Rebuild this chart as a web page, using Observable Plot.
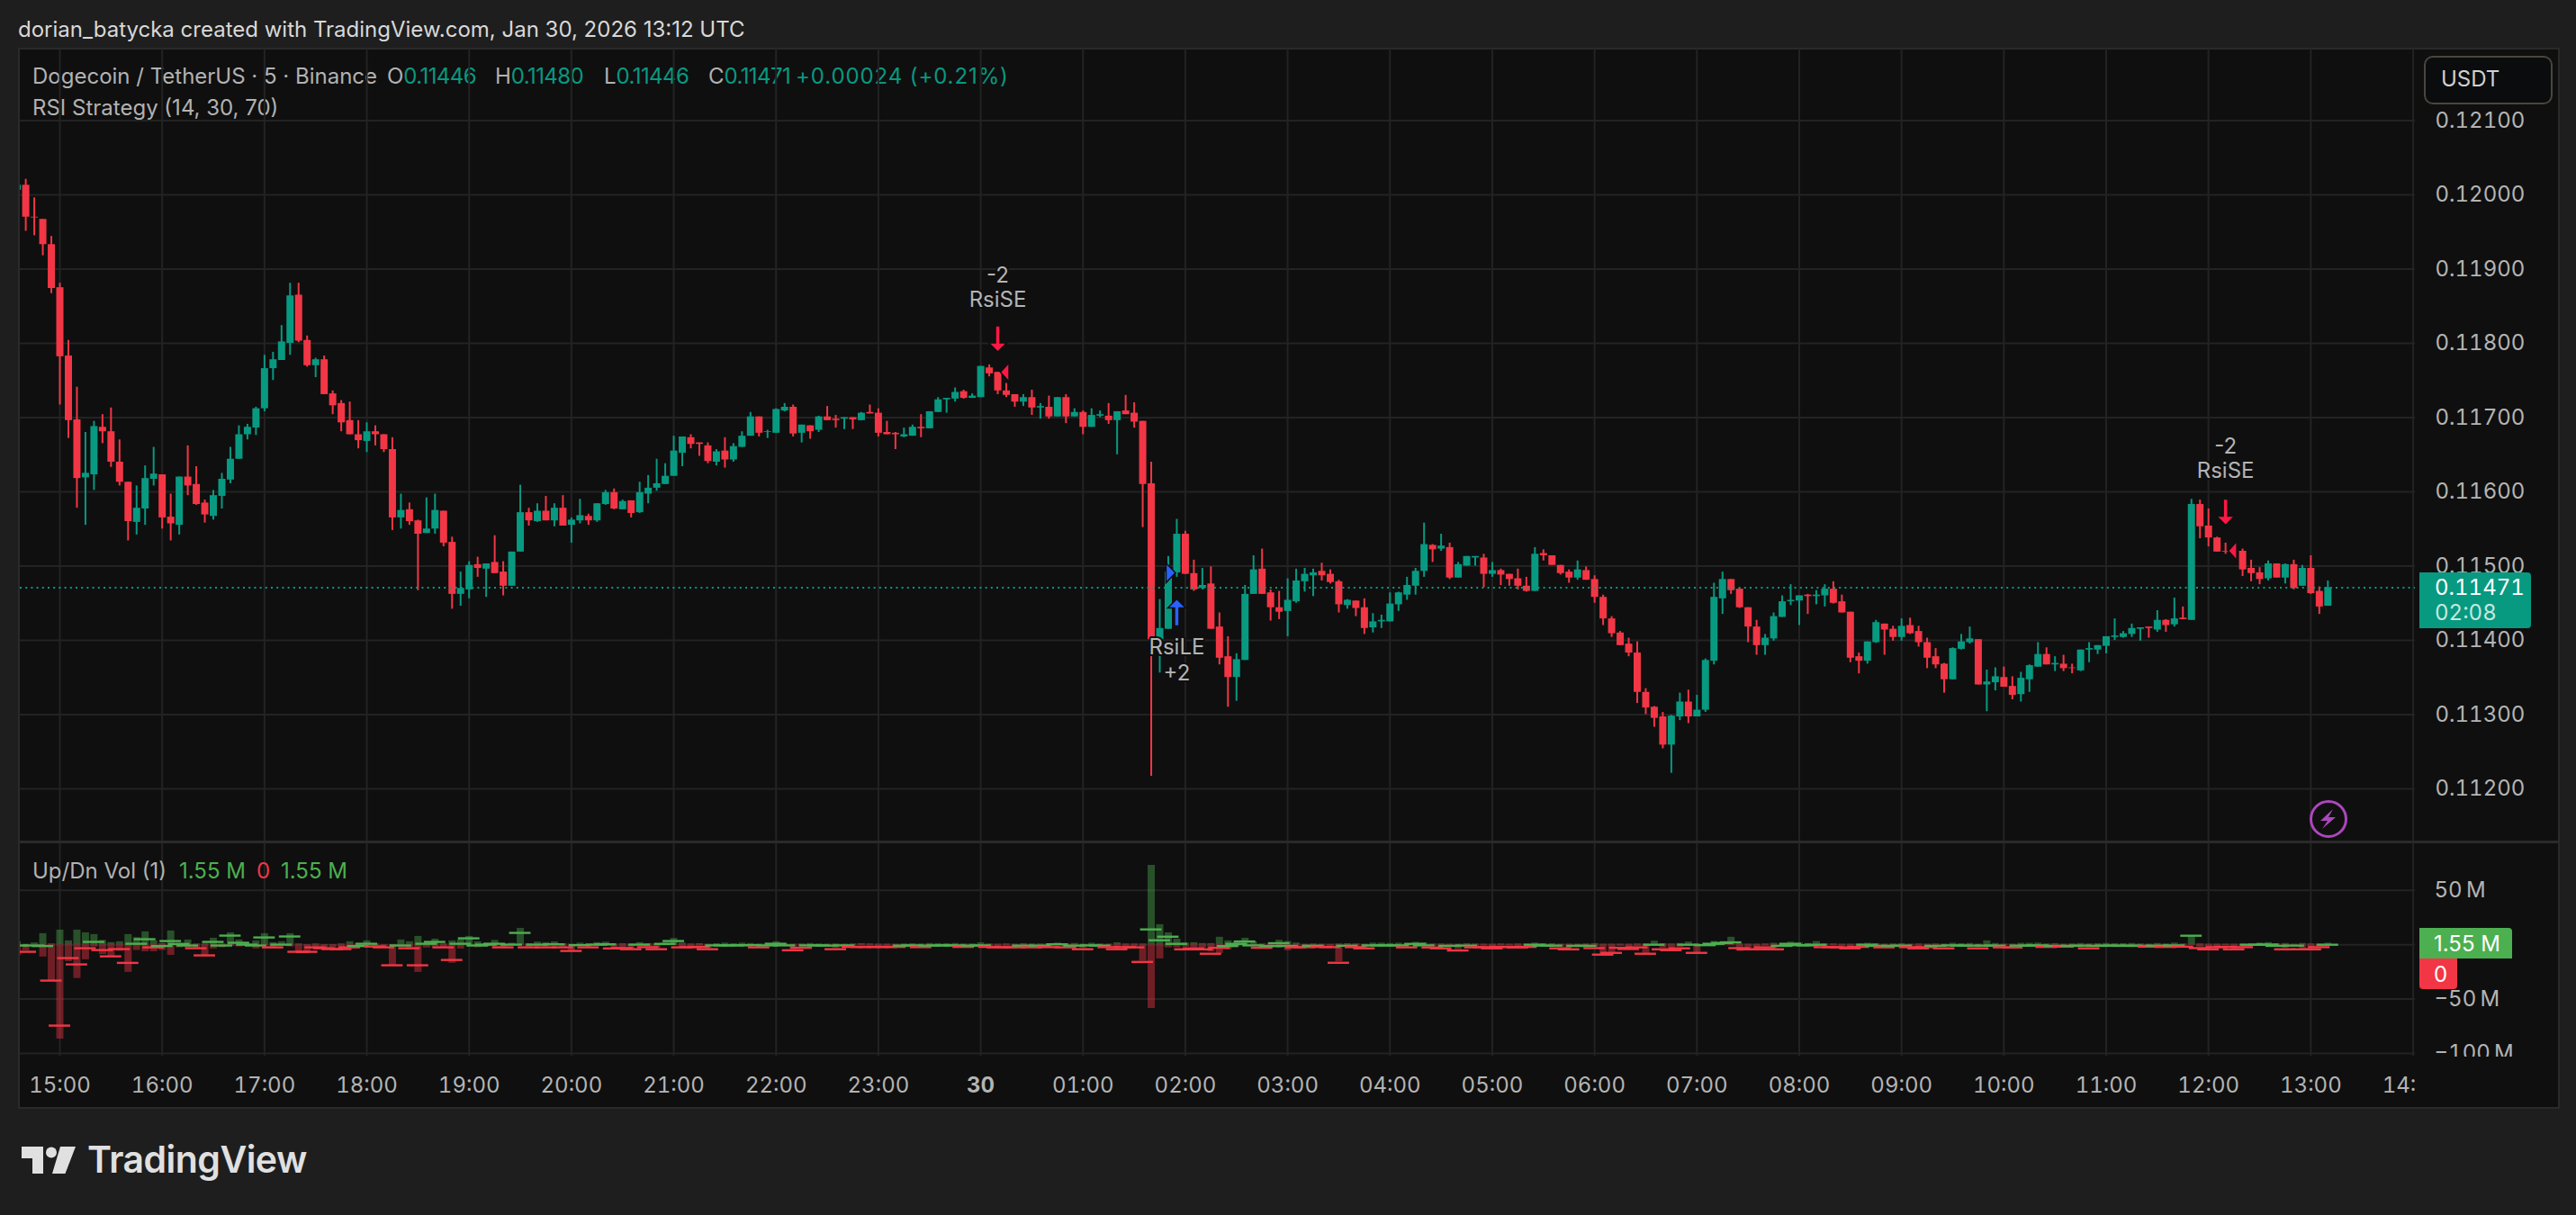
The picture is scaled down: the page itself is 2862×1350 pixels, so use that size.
<!DOCTYPE html>
<html><head><meta charset="utf-8">
<script src="https://cdn.jsdelivr.net/npm/d3@7"></script>
<script src="https://cdn.jsdelivr.net/npm/@observablehq/plot@0.6"></script>
<style>
html,body{margin:0;padding:0;background:#1e1e1e;width:2862px;height:1350px;overflow:hidden;font-family:Inter,sans-serif}
#root{position:relative;width:2862px;height:1350px}
.abs{position:absolute;white-space:pre}
#root svg{position:absolute;left:0}
.g{color:#089981}.u{color:#4caf50}.d{color:#f23645}
.lg{top:70px;font-size:24px;color:#b2b2b2}
.lg .g{letter-spacing:-0.6px}
.tn{font-variant-numeric:tabular-nums}
</style></head><body><div id="root">
<div class="abs" style="left:20px;top:53px;width:2820px;height:1175px;background:#0f0f0f;border:2px solid #2a2a2a"></div>
<div class="abs" style="left:20px;top:18px;font-size:24px;color:#d8d8d8">dorian_batycka created with TradingView.com, Jan 30, 2026 13:12 UTC</div>
<div class="abs lg" style="left:36px">Dogecoin / TetherUS · 5 · Binance</div>
<div class="abs lg" style="left:430px">O<span class="g">0.11446</span></div>
<div class="abs lg" style="left:550px">H<span class="g">0.11480</span></div>
<div class="abs lg" style="left:671px">L<span class="g">0.11446</span></div>
<div class="abs lg" style="left:787px">C<span class="g">0.11471</span></div>
<div class="abs lg" style="left:884px;color:#089981;letter-spacing:0.9px">+0.00024 (+0.21%)</div>
<div class="abs" style="left:36px;top:105px;font-size:24px;color:#b2b2b2">RSI Strategy (14, 30, 70)</div>
<div id="charts"></div>
<div class="abs" style="left:22px;top:934px;width:2820px;height:3px;background:#2a2a2a"></div>
<div class="abs" style="left:2683px;top:1174px;width:157px;height:54px;background:#0f0f0f"></div>
<div class="abs" style="left:2693px;top:62px;width:139px;height:50px;background:#0a0c0e;border:2px solid #4a463c;border-radius:10px"></div>
<div class="abs" style="left:2712px;top:73px;font-size:24px;color:#d0d0d0">USDT</div>
<div class="abs" style="left:36px;top:953px;font-size:24px;color:#b2b2b2">Up/Dn Vol (1)</div>
<div class="abs u" style="left:199px;top:953px;font-size:24px">1.55 M</div>
<div class="abs d" style="left:285px;top:953px;font-size:24px">0</div>
<div class="abs u" style="left:312px;top:953px;font-size:24px">1.55 M</div>
<div class="abs" style="left:2688px;top:636px;width:124px;height:62px;background:#089981;border-radius:0 4px 4px 0"></div>
<div class="abs tn" style="left:2705px;top:638px;font-size:24px;line-height:29px;color:#fff">0.11471</div>
<div class="abs tn" style="left:2705px;top:666px;font-size:24px;line-height:29px;color:#c4e8df">02:08</div>
<div class="abs" style="left:2688px;top:1031px;width:103px;height:34px;background:#4caf50;border-radius:0 4px 0 0"></div>
<div class="abs" style="left:2704px;top:1034px;font-size:24px;line-height:29px;color:#fff">1.55 M</div>
<div class="abs" style="left:2688px;top:1065px;width:42px;height:34px;background:#f23645;border-radius:0 0 4px 4px"></div>
<div class="abs" style="left:2704px;top:1068px;font-size:24px;line-height:29px;color:#fff">0</div>
<svg width="44" height="44" viewBox="0 0 44 44" style="left:2565px;top:888px">
<circle cx="22" cy="22" r="19.5" fill="none" stroke="#ab47bc" stroke-width="3"/>
<path d="M27 11 L13 24 L21 24 L15 33 L30 20 L22 20 Z" fill="#ab47bc"/></svg>
<svg width="62" height="32" viewBox="0 0 62 32" style="left:23px;top:1273px">
<path d="M1 1H25V31H13V14H1Z" fill="#e0e0e0"/><circle cx="34" cy="7.5" r="6" fill="#e0e0e0"/>
<path d="M44 1H61L49.5 31H35Z" fill="#e0e0e0"/></svg>
<div class="abs" style="left:97px;top:1263px;font-size:41px;font-weight:600;letter-spacing:-0.55px;color:#e0e0e0">TradingView</div>
</div>
<script>
// Prices are in units of 0.00001 USDT, one entry per 5-minute bar from Jan 29 14:35
const opens=[12006,12013,11970,11967,11933,11875,11783,11697,11619,11623,
11687,11681,11640,11613,11559,11577,11617,11623,11566,11555,
11620,11610,11585,11567,11594,11616,11644,11677,11686,11712,
11766,11777,11800,11865,11804,11770,11778,11732,11719,11696,
11677,11668,11681,11677,11657,11565,11576,11561,11544,11550,
11574,11532,11462,11468,11502,11496,11505,11492,11473,11519,
11572,11560,11574,11561,11578,11555,11561,11567,11561,11583,
11599,11576,11588,11572,11597,11605,11610,11621,11652,11673,
11666,11662,11640,11655,11643,11660,11675,11701,11680,11679,
11709,11714,11679,11689,11683,11701,11698,11698,11700,11696,
11707,11706,11680,11679,11674,11675,11687,11685,11707,11724,
11725,11735,11726,11727,11767,11761,11736,11731,11721,11727,
11713,11714,11701,11727,11701,11707,11687,11702,11702,11696,
11709,11706,11695,11611,11401,11415,11491,11543,11490,11470,
11476,11418,11378,11350,11373,11462,11496,11464,11444,11439,
11452,11479,11487,11493,11489,11479,11447,11453,11444,11417,
11425,11425,11448,11461,11473,11493,11528,11523,11525,11484,
11500,11511,11511,11489,11494,11489,11483,11473,11466,11517,
11514,11501,11492,11484,11494,11482,11458,11429,11410,11395,
11383,11330,11310,11297,11259,11297,11317,11297,11306,11372,
11456,11482,11469,11444,11418,11393,11402,11431,11452,11453,
11461,11459,11460,11469,11452,11438,11378,11372,11397,11422,
11415,11404,11420,11412,11397,11378,11368,11347,11388,11397,
11401,11340,11343,11350,11338,11327,11347,11364,11381,11367,
11368,11363,11359,11387,11387,11392,11404,11404,11408,11415,
11418,11414,11427,11421,11430,11427,11583,11554,11538,11520,
11519,11520,11497,11491,11483,11503,11484,11502,11473,11497,
11466,11446];
const highs=[12013,12021,11996,11967,11944,11881,11804,11741,11680,11695,
11704,11713,11670,11613,11608,11635,11660,11623,11597,11620,
11662,11634,11589,11602,11625,11660,11689,11691,11714,11784,
11788,11824,11881,11881,11810,11780,11783,11736,11723,11721,
11696,11693,11689,11677,11673,11597,11585,11562,11592,11597,
11574,11539,11492,11506,11512,11503,11541,11506,11519,11609,
11578,11584,11594,11584,11595,11565,11590,11570,11584,11602,
11604,11589,11588,11613,11622,11644,11638,11675,11674,11677,
11666,11666,11657,11673,11665,11681,11707,11701,11683,11712,
11719,11717,11690,11689,11702,11715,11703,11700,11700,11707,
11717,11712,11695,11680,11686,11690,11704,11708,11727,11726,
11740,11737,11732,11769,11771,11761,11746,11731,11731,11737,
11719,11729,11727,11731,11712,11709,11712,11709,11719,11708,
11730,11720,11695,11640,11455,11513,11563,11547,11508,11497,
11499,11437,11405,11382,11474,11514,11523,11468,11466,11483,
11496,11497,11496,11504,11495,11481,11455,11453,11456,11436,
11434,11464,11465,11485,11497,11558,11529,11543,11531,11505,
11513,11513,11516,11505,11496,11489,11496,11485,11525,11522,
11514,11501,11495,11507,11499,11487,11461,11432,11412,11403,
11398,11335,11311,11303,11299,11329,11333,11326,11375,11477,
11492,11482,11470,11444,11427,11408,11437,11460,11475,11460,
11462,11467,11475,11479,11461,11438,11383,11398,11427,11422,
11419,11429,11430,11419,11403,11389,11369,11390,11408,11418,
11401,11360,11363,11364,11351,11357,11367,11397,11390,11378,
11380,11368,11387,11397,11393,11405,11429,11412,11422,11417,
11418,11440,11428,11457,11445,11590,11589,11577,11539,11531,
11526,11523,11508,11498,11507,11503,11503,11508,11501,11514,
11472,11480];
const lows=[12006,11951,11945,11918,11867,11717,11672,11578,11555,11602,
11665,11633,11608,11534,11542,11555,11608,11550,11534,11542,
11595,11582,11558,11562,11577,11611,11644,11670,11676,11708,
11750,11777,11784,11801,11768,11754,11731,11704,11681,11677,
11658,11653,11662,11653,11548,11550,11555,11467,11544,11543,
11526,11442,11446,11456,11485,11458,11490,11460,11473,11519,
11554,11559,11561,11553,11554,11531,11557,11555,11559,11582,
11576,11576,11565,11571,11584,11601,11610,11621,11634,11658,
11648,11638,11635,11632,11640,11660,11675,11674,11672,11679,
11708,11674,11666,11671,11680,11696,11686,11684,11684,11696,
11705,11674,11677,11657,11673,11675,11673,11685,11707,11706,
11721,11725,11726,11727,11755,11731,11727,11714,11715,11703,
11698,11698,11701,11692,11701,11677,11687,11700,11691,11650,
11704,11686,11552,11217,11356,11415,11485,11489,11466,11468,
11415,11367,11310,11318,11373,11462,11462,11426,11428,11405,
11450,11465,11459,11480,11476,11437,11442,11432,11408,11410,
11416,11425,11439,11454,11461,11485,11505,11520,11482,11484,
11500,11500,11471,11485,11474,11473,11468,11465,11466,11507,
11501,11488,11477,11481,11481,11450,11420,11404,11393,11378,
11315,11300,11283,11254,11221,11292,11288,11297,11303,11367,
11435,11462,11443,11397,11380,11380,11399,11431,11447,11420,
11435,11448,11445,11449,11437,11370,11355,11368,11396,11380,
11399,11399,11408,11391,11362,11362,11329,11347,11387,11395,
11340,11304,11332,11337,11320,11317,11330,11364,11367,11358,
11358,11355,11358,11370,11381,11382,11400,11403,11404,11399,
11403,11411,11411,11418,11428,11427,11537,11526,11519,11516,
11515,11486,11479,11475,11480,11484,11476,11468,11473,11462,
11435,11446];
const closes=[12013,11970,11969,11933,11874,11782,11696,11618,11625,11688,
11681,11640,11613,11560,11578,11618,11624,11565,11557,11620,
11608,11583,11569,11595,11617,11644,11677,11687,11712,11766,
11778,11802,11864,11803,11770,11778,11731,11716,11693,11677,
11669,11681,11677,11657,11565,11575,11560,11543,11550,11575,
11531,11462,11470,11501,11497,11503,11490,11473,11519,11572,
11561,11574,11561,11578,11554,11562,11568,11561,11584,11599,
11577,11587,11571,11599,11605,11611,11621,11655,11674,11664,
11664,11641,11654,11643,11661,11675,11701,11679,11681,11711,
11714,11678,11690,11681,11701,11696,11696,11700,11697,11706,
11705,11679,11677,11677,11677,11687,11685,11708,11724,11726,
11734,11726,11729,11769,11759,11736,11730,11721,11727,11713,
11715,11701,11727,11701,11707,11687,11703,11704,11696,11708,
11704,11694,11610,11401,11416,11492,11543,11489,11468,11474,
11415,11376,11350,11374,11462,11495,11462,11444,11438,11454,
11480,11489,11491,11487,11478,11448,11454,11443,11416,11425,
11427,11449,11464,11474,11493,11529,11522,11527,11484,11502,
11513,11513,11489,11494,11488,11482,11473,11466,11516,11514,
11501,11490,11484,11495,11481,11458,11429,11409,11393,11383,
11330,11309,11295,11259,11298,11317,11297,11306,11373,11458,
11482,11467,11444,11418,11393,11403,11432,11452,11454,11460,
11459,11461,11469,11450,11437,11376,11372,11398,11424,11414,
11404,11419,11409,11397,11376,11367,11347,11389,11398,11402,
11340,11344,11351,11337,11326,11349,11366,11381,11367,11369,
11362,11362,11387,11389,11393,11405,11406,11409,11416,11417,
11416,11427,11420,11429,11428,11583,11553,11538,11519,11519,
11520,11495,11490,11482,11503,11484,11502,11470,11497,11463,
11445,11471];
// Up/Dn volume per bar, in millions of DOGE
const upVol=[2.8,.5,1.7,10.2,.8,13.5,3.6,13.5,11,9.4,
4,2,2.8,9.4,6.6,11.9,3.6,1,12.7,1.4,
4.4,.8,.8,6,.8,11,4.4,.8,3.6,10.2,
2,2.8,10.2,.8,.3,.8,.3,.3,.8,2.8,
.8,3.6,.8,.3,.3,4.4,2.8,7.7,.3,5.2,
.8,3.6,4.4,7.7,2.8,1.2,4,.8,1.5,15,
1,2.5,2,2.6,1,.6,1.5,.8,2,2.4,
.8,1,.6,2,1,.8,1.5,5.8,1.5,.8,
1,.6,1,1.5,1,1.5,1.2,.8,1.2,2.8,
.8,.6,.8,1.2,.8,.6,.8,.6,.8,1,
.8,.6,.6,.6,.8,1,.8,1.2,1,1,
1.2,.8,.8,1.8,.8,.6,.8,.6,1,.8,
.8,1,1.6,.8,1.2,.6,1.4,.8,.6,1.8,
.8,.8,.8,73,18.5,11,5.2,1.6,1.9,1.1,
1.1,6.9,3.6,2.5,6,2.5,.8,.5,4.1,3,
1.6,.5,.8,.6,.5,.8,1,.8,.6,1.5,
1.5,1.2,1.5,1,2.2,1.6,.8,.8,.6,.6,
1,.8,.6,.6,.8,.6,.8,.6,1.6,1,
1,.6,.6,.6,.8,1,.6,.6,.6,.6,
.8,.8,3.3,1,.8,1.2,2.5,.8,1.5,3,
2.5,6.9,.8,.6,.6,.8,1.4,1.2,2.4,1.6,
1.2,3,.8,.8,.6,.6,.8,1.4,1,.6,
.8,1,.6,.8,.6,.8,.6,1.4,1,1.2,
.6,3.6,1.2,.6,.6,1.4,1.4,1.6,.8,1,
.6,.8,1.2,.8,1,1.2,1,1,1.2,.8,
.6,1.2,.8,1.6,.8,8.3,.8,.6,.6,.6,
.6,.6,.6,1.6,2,.8,1.2,.6,1.2,.8,
.6,1.5];
const dnVol=[-10,-5.5,-.5,-11.3,-33,-86.7,-15.5,-31,-13.8,-2,
-9,-10.8,-6,-25.4,-5.2,-6.4,-6.4,-5.2,-9.7,-2.8,
-2.8,-3.3,-10.8,-3.9,-2.8,-1.4,-2,-.5,-3.9,-1.1,
-3.3,-1.1,-2,-7.7,-7.7,-3.3,-4.4,-4.4,-4.7,-3.3,
-2.5,-1.1,-2.2,-3,-19,-2.2,-4.4,-25.4,-3,-2,
-2.8,-17,-3.9,-.5,-2.8,-2,-2,-2.5,-1,-.5,
-3,-1,-2,-1,-3.4,-6,-1,-2.2,-1,-1,
-3,-2.8,-3.6,-.8,-1.6,-3.4,-.8,-.6,-2,-1.4,
-1.2,-3.6,-1.4,-1,-1.2,-.8,-.8,-1.8,-.8,-.8,
-1.4,-4.4,-1.8,-.8,-1.2,-1.6,-3.4,-1,-1,-.8,
-1,-1.4,-1.2,-1.2,-.8,-.6,-1.4,-.6,-.6,-.6,
-.6,-1,-.4,-.6,-1.2,-1.6,-1.2,-1.4,-.8,-1.4,
-.8,-1.4,-.6,-2,-1,-3.4,-.6,-.6,-1.4,-3.4,
-1.6,-1.8,-15,-58.6,-13,-2.8,-2.8,-2.2,-3,-3.3,
-6.6,-8,-4.7,-1.9,-1,-1.6,-3,-3,-3,-5.5,
-1.4,-1.6,-1,-1.2,-1.4,-15.7,-1,-1.2,-2.8,-.8,
-.6,-.6,-.6,-1.4,-.6,-.6,-1.6,-2.4,-.8,-4.4,
-.8,-1.4,-1.2,-2.4,-1,-1,-1.6,-.8,-.6,-1,
-1,-2.4,-3.4,-.8,-1,-2.2,-10,-8.3,-1.2,-3,
-1.4,-8.3,-1,-3.4,-4.4,-2.4,-.8,-7.5,-.8,-.8,
-.6,-.6,-6,-3.4,-3.4,-1.2,-3.4,-.8,-.6,-.8,
-.8,-.6,-1.2,-1,-1.4,-2.4,-.8,-.6,-1,-1.4,
-.8,-.6,-1.2,-2.4,-1.2,-1,-2.4,-.6,-.6,-.8,
-2.4,-1,-1,-1.2,-1.6,-.8,-.6,-.6,-1.2,-.6,
-.8,-.8,-.6,-2.4,-.6,-.6,-.6,-.6,-.6,-.6,
-1,-.6,-1,-.6,-1,-.6,-2.2,-3.4,-1.4,-1,
-3.4,-1.6,-1,-.8,-.6,-1.2,-3.4,-1,-3.4,-3.4,
-1.4,0];
const deltaVol=[.7,-5.1,.7,.2,-31.6,-73,-10.9,-16.7,-1.8,4,
-3.5,-9.3,-2.6,-15.3,2.3,6.5,-1,.2,4.8,2.1,
.7,-1.8,-8.4,4,.7,9.8,3.2,1.5,.7,8.1,
-1,1.5,9,-5.1,-5.1,-1,-1.8,-2.6,-2.6,-1,
.2,2.3,-.2,-1,-17.5,.7,-1.8,-17.5,2.3,4,
-1,-12.6,2.3,7.3,.7,1.5,2.3,-1,1.5,12.3,
-1,1.5,-1,1.8,-1,-4.3,1,-1,1.5,1.8,
-2,-1.6,-2.7,1.5,-.8,-2.7,2.2,4.8,-1,-.8,
-.6,-2.7,.8,.8,.8,1,1,-1,.8,2.3,
.8,-3.7,-1.4,.8,.8,.6,-2.7,.8,-.6,-.6,
-.6,-.6,-.6,-.6,.6,.8,-.8,.6,.8,.8,
.8,-.6,.6,.8,-.6,-1,-.8,-1,.6,-1,
.6,-.8,1.8,-1,.6,-2.7,.8,.6,-.8,-2.7,
-.8,-1,-14.4,15.5,5.5,8.8,2.2,-2.8,-2,-2.8,
-6.9,-1.4,.2,2.2,4.4,.8,-1.4,.2,2.8,.3,
-1,-.8,.5,-.6,-.8,-15.2,.5,-.8,-1.9,.8,
.8,.8,.8,-1,2.2,.8,-1.1,-1.9,.4,-3.9,
.6,-1,-.8,-1.9,-.6,-.6,-1.1,-.6,1.4,.6,
.6,-1.9,-2.8,.4,.4,-1.7,-7.7,-6.1,-1.4,-2.5,
-1,-6.9,1.4,-2.8,-3.6,-1.9,1.4,-6.1,1,2.2,
3,3.6,-1.7,-2.8,-2.8,-1,-2.8,.4,2.2,1,
.8,1.4,-.8,-.8,-1,-1.9,-.6,1.4,.4,-1,
.4,.6,-.8,-1.9,-.8,.4,-1.9,.8,.6,.6,
-1.9,.6,.6,-1,-1.1,.6,.6,.8,-.6,.4,
-.4,.4,.6,-1.9,.4,.6,.6,.4,.6,.4,
-.4,.6,-.6,.8,-.4,9.7,-1.7,-2.8,-.8,-.6,
-2.8,-.8,1.4,1.4,1.6,.4,-2.8,.6,-2.8,-2.8,
-.8,1.4];
const priceTicks=[0.112,0.113,0.114,0.115,0.116,0.117,0.118,0.119,0.120,0.121];
const volTicks=[50,-50,-100];
const lastPrice=0.11471;
const hourLabels=["15:00","16:00","17:00","18:00","19:00","20:00","21:00","22:00","23:00","30","01:00","02:00","03:00","04:00","05:00","06:00","07:00","08:00","09:00","10:00","11:00","12:00","13:00","14:00"];
// strategy signals: bar index, and the price level each one is labelled at
const signalBars=[115,136,259];
const shortArrowPrices=[0.118067,0.115733];
const shortFlagPrices=[0.117612,0.115206];
const longArrowPrice=0.114376, longFlagPrice=0.114909;
const signalTexts=[
 {bar:115,price:0.118913,text:"-2"},{bar:115,price:0.118582,text:"RsiSE"},
 {bar:136,price:0.113903,text:"RsiLE"},{bar:136,price:0.113552,text:"+2"},
 {bar:259,price:0.116610,text:"-2"},{bar:259,price:0.116279,text:"RsiSE"}];

const BAR=5*60000, t0=Date.UTC(2026,0,29,14,35);
const T=i=>new Date(t0+i*BAR);
const bars=opens.map((o,i)=>({t:T(i),o:o/1e5,h:highs[i]/1e5,l:lows[i]/1e5,c:closes[i]/1e5,
  up:upVol[i],dn:dnVol[i],dv:deltaVol[i],t1:new Date(t0+i*BAR-6.3*60000),t2:new Date(t0+i*BAR+6.3*60000)}));
const col=d=>d.c>=d.o?"#089981":"#f23645";
const hourDates=hourLabels.map((_,k)=>new Date(Date.UTC(2026,0,29,15+k)));
const xDomain=[T(0.355),T(281.26)];
const shared={width:2862,marginLeft:22,marginRight:179,marginTop:0,
  style:{background:"transparent",color:"#b4b4b4",fontFamily:"Inter,sans-serif",overflow:"visible"}};
const GRID="#232323";

// marker shapes, drawn around each signal's anchor
const sym=f=>({draw(c){f(c)}});
const arrowDown=sym(c=>{c.moveTo(-2.5,-14);c.lineTo(2.5,-14);c.lineTo(2.5,5);c.lineTo(10,5);c.lineTo(0,15);c.lineTo(-10,5);c.lineTo(-2.5,5);c.closePath()});
const arrowUp=sym(c=>{c.moveTo(-2.5,15);c.lineTo(2.5,15);c.lineTo(2.5,-5);c.lineTo(10,-5);c.lineTo(0,-15);c.lineTo(-10,-5);c.lineTo(-2.5,-5);c.closePath()});
const flagLeft=sym(c=>{c.moveTo(3,0);c.lineTo(12.5,-10.5);c.lineTo(12.5,10.5);c.closePath()});
const flagRight=sym(c=>{c.moveTo(-1.5,0);c.lineTo(-12,-11);c.lineTo(-12,11);c.closePath()});
const mk=(bar,price)=>[{t:T(bar),p:price}];
const dot=(d,symbol,fill)=>Plot.dot(d,{x:"t",y:"p",symbol,fill,stroke:"#0f0f0f",strokeWidth:1.5,r:10});

const price=Plot.plot({...shared,height:881,marginBottom:0,
  x:{type:"utc",domain:xDomain,axis:null},
  y:{domain:[0.111285,0.121964],label:null},
  marks:[
   Plot.gridX(hourDates,{stroke:GRID,strokeWidth:2,strokeOpacity:1}),
   Plot.gridY(priceTicks,{stroke:GRID,strokeWidth:2,strokeOpacity:1}),
   Plot.axisY(priceTicks,{anchor:"right",tickSize:0,tickPadding:22,fontSize:24,tickFormat:d3.format(".5f"),label:null}),
   Plot.ruleX(bars,{x:"t",y1:"l",y2:"h",stroke:col,strokeWidth:2,clip:true}),
   Plot.ruleX(bars,{x:"t",y1:"o",y2:"c",stroke:col,strokeWidth:8,clip:true}),
   Plot.ruleY([lastPrice],{stroke:"#089981",strokeWidth:2,strokeDasharray:"2 4.2"}),
   dot(mk(signalBars[0],shortFlagPrices[0]),flagLeft,"#ff1744"),
   dot(mk(signalBars[2],shortFlagPrices[1]),flagLeft,"#ff1744"),
   dot(mk(signalBars[1],longFlagPrice),flagRight,"#2962ff"),
   dot(mk(signalBars[0],shortArrowPrices[0]),arrowDown,"#ff1744"),
   dot(mk(signalBars[2],shortArrowPrices[1]),arrowDown,"#ff1744"),
   dot(mk(signalBars[1],longArrowPrice),arrowUp,"#2962ff"),
   Plot.text(signalTexts,{x:d=>T(d.bar),y:"price",text:"text",fontSize:24,fill:"#b4b4b4",stroke:"#0f0f0f",strokeWidth:4})
  ]});
price.style.top="54px";

const vol=Plot.plot({...shared,height:292,marginBottom:56,
  x:{type:"utc",domain:xDomain,label:null},
  y:{domain:[-102.5,92.9],label:null},
  marks:[
   Plot.gridX(hourDates,{stroke:GRID,strokeWidth:2,strokeOpacity:1}),
   Plot.gridY([50,0,-50,-100],{stroke:GRID,strokeWidth:2,strokeOpacity:1}),
   Plot.axisY(volTicks,{anchor:"right",tickSize:0,tickPadding:21,fontSize:24,label:null,tickFormat:d=>(d<0?"\u2212"+(-d):d)+"\u202fM"}),
   Plot.axisX(hourDates.filter((_,k)=>hourLabels[k]!=="30"),{anchor:"bottom",tickSize:0,tickPadding:23,fontSize:24,label:null,tickFormat:d3.utcFormat("%H:%M")}),
   Plot.axisX(hourDates.filter((_,k)=>hourLabels[k]==="30"),{anchor:"bottom",tickSize:0,tickPadding:23,fontSize:24,fontWeight:700,label:null,tickFormat:d3.utcFormat("%-d")}),
   Plot.ruleX(bars,{x:"t",y1:0,y2:"up",stroke:"#4caf50",strokeOpacity:.42,strokeWidth:8,clip:true}),
   Plot.ruleX(bars,{x:"t",y1:0,y2:"dn",stroke:"#f23645",strokeOpacity:.42,strokeWidth:8,clip:true}),
   Plot.ruleY(bars,{x1:"t1",x2:"t2",y:"dv",dy:1.7,stroke:d=>d.dv>=0?"#4caf50":"#f23645",strokeWidth:2.4,clip:true})
  ]});
vol.style.top="937px";
const host=document.getElementById("charts");
host.append(price,vol);
</script></body></html>
